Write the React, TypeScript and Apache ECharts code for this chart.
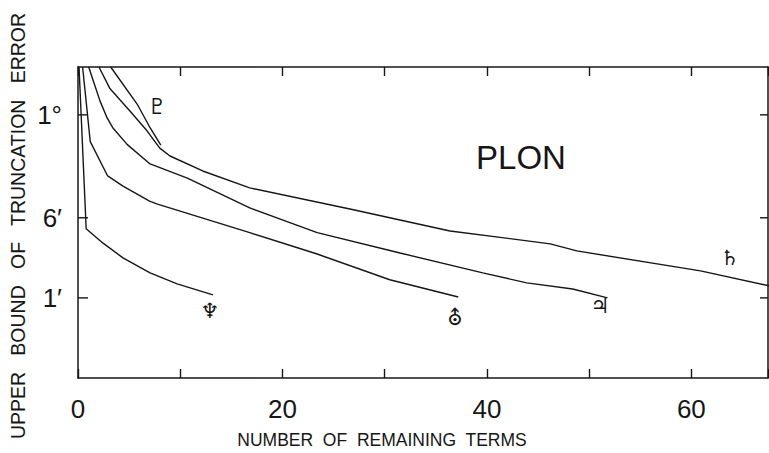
import React, { useEffect, useRef } from "react";
import * as echarts from "echarts";

// x: number of remaining terms, y: upper bound of truncation error (arc-minutes)
const neptuneX = [0.1, 0.8, 2.45, 4.4, 7.05, 9.7, 13.2];
const neptuneY = [175, 4.7, 3.4, 2.45, 1.75, 1.37, 1.07];

const uranusX = [0.45, 1.2, 2.9, 4.4, 7.0, 7.7, 16.8, 23.4, 30.5, 37.2];
const uranusY = [175, 33, 15.3, 12.2, 8.7, 8.2, 4.3, 2.67, 1.5, 1.02];

const jupiterX = [1.05, 1.5, 2.15, 2.85, 3.4, 4.8, 7.05, 10.7, 16.8, 23.4, 31.5, 39.6, 43.9, 48.4, 51.8];
const jupiterY = [175, 128, 82, 56, 45, 31, 20, 14.6, 7.5, 4.3, 2.73, 1.75, 1.4, 1.22, 1.0];

const saturnX = [2.05, 3.1, 5.1, 6.75, 8.0, 9.0, 12.2, 16.8, 26.6, 36.4, 46.2, 48.8, 60.9, 67.6];
const saturnY = [175, 109, 65, 42, 28.5, 23.9, 17.1, 11.7, 7.3, 4.47, 3.35, 2.86, 1.83, 1.31];

const plutoX = [3.2, 5.8, 7.05, 8.1];
const plutoY = [175, 76, 45, 30.5];

const yTickValues = [1, 6, 60];
const yTickLabels = ["1\u2032", "6\u2032", "1\u00b0"];

const X_MIN = 0;
const X_MAX = 67.5;
const Y_MIN = 1 / 6;
const Y_MAX = 175;

const INK = "#161616";
const FONT = "Liberation Sans, Arial, sans-serif";
const SYM = "DejaVu Sans";

const zip = (xs: number[], ys: number[]) => xs.map((x, i) => [x, ys[i]]);

export default function App() {
  const ref = useRef<HTMLDivElement>(null);
  useEffect(() => {
    document.body.style.margin = "0";
    const chart = echarts.init(ref.current!, null, { renderer: "svg" });
    const lineSeries = (name: string, xs: number[], ys: number[]) => ({
      name,
      type: "line",
      data: zip(xs, ys),
      showSymbol: false,
      symbol: "none",
      smooth: false,
      clip: true,
      lineStyle: { color: INK, width: 1.4 },
      silent: true,
    });
    const sym = (text: string, x: number, y: number, size = 21) => ({
      type: "text",
      x,
      y,
      style: { text, fill: INK, fontSize: size, fontFamily: SYM, align: "center", verticalAlign: "middle" },
    });
    chart.setOption({
      animation: false,
      backgroundColor: "#ffffff",
      grid: { left: 78, right: 1, top: 67, bottom: 75, containLabel: false, outerBoundsMode: "none" },
      xAxis: [
        {
          type: "value",
          min: X_MIN,
          max: X_MAX,
          interval: 10,
          position: "bottom",
          axisLine: { show: true, onZero: false, lineStyle: { color: INK, width: 1.5 } },
          axisTick: { show: true, inside: true, length: 9, lineStyle: { color: INK, width: 1.4 } },
          axisLabel: {
            show: true,
            margin: 18,
            color: INK,
            fontSize: 26,
            fontFamily: FONT,
            formatter: (v: number) => (v % 20 === 0 ? String(v) : ""),
          },
          splitLine: { show: false },
        },
        {
          type: "value",
          min: X_MIN,
          max: X_MAX,
          interval: 10,
          position: "top",
          axisLine: { show: true, onZero: false, lineStyle: { color: INK, width: 1.5 } },
          axisTick: { show: true, inside: true, length: 9, lineStyle: { color: INK, width: 1.4 } },
          axisLabel: { show: false },
          splitLine: { show: false },
        },
      ],
      yAxis: [
        {
          type: "log",
          logBase: 10,
          min: Y_MIN,
          max: Y_MAX,
          position: "left",
          axisLine: { show: true, onZero: false, lineStyle: { color: INK, width: 1.5 } },
          axisTick: { show: false },
          axisLabel: { show: false },
          splitLine: { show: false },
        },
        {
          type: "log",
          logBase: 10,
          min: Y_MIN,
          max: Y_MAX,
          position: "right",
          axisLine: { show: true, onZero: false, lineStyle: { color: INK, width: 1.5 } },
          axisTick: { show: false },
          axisLabel: { show: false },
          splitLine: { show: false },
        },
      ],
      series: [
        lineSeries("Neptune", neptuneX, neptuneY),
        lineSeries("Uranus", uranusX, uranusY),
        lineSeries("Jupiter", jupiterX, jupiterY),
        lineSeries("Saturn", saturnX, saturnY),
        lineSeries("Pluto", plutoX, plutoY),
        {
          type: "custom",
          coordinateSystem: "cartesian2d",
          xAxisIndex: 0,
          yAxisIndex: 0,
          silent: true,
          clip: false,
          z: 5,
          data: yTickValues.map((v, i) => [X_MIN, v, i]),
          renderItem: (params: any, api: any) => {
            const v = api.value(1);
            const i = api.value(2);
            const p = api.coord([X_MIN, v]);
            const q = api.coord([X_MAX, v]);
            return {
              type: "group",
              children: [
                {
                  type: "line",
                  shape: { x1: p[0], y1: p[1], x2: p[0] + 10, y2: p[1] },
                  style: { stroke: INK, lineWidth: 1.4 },
                },
                {
                  type: "line",
                  shape: { x1: q[0] - 8, y1: q[1], x2: q[0], y2: q[1] },
                  style: { stroke: INK, lineWidth: 1.4 },
                },
                {
                  type: "text",
                  x: p[0] - 16,
                  y: p[1],
                  style: {
                    text: yTickLabels[i],
                    fill: INK,
                    fontSize: 26,
                    fontFamily: FONT,
                    align: "right",
                    verticalAlign: "middle",
                  },
                },
              ],
            };
          },
        },
      ],
      graphic: [
        {
          type: "text",
          x: 18,
          y: 226,
          rotation: Math.PI / 2,
          style: { text: "UPPER   BOUND   OF   TRUNCATION   ERROR", fill: INK, fontSize: 19.5, fontFamily: FONT, align: "center", verticalAlign: "middle" },
        },
        { type: "text", x: 382, y: 440, style: { text: "NUMBER  OF  REMAINING  TERMS", fill: INK, fontSize: 17.5, fontFamily: FONT, align: "center", verticalAlign: "middle" } },
        { type: "text", x: 521, y: 157, style: { text: "PLON", fill: INK, fontSize: 33, fontFamily: FONT, align: "center", verticalAlign: "middle" } },
        sym("\u2647", 157, 106, 22),
        sym("\u2646", 210, 311),
        sym("\u26e2", 455, 318),
        sym("\u2643", 600, 306),
        sym("\u2644", 730, 258),
      ],
    });
    return () => chart.dispose();
  }, []);
  return <div ref={ref} style={{ width: 769, height: 453 }} />;
}
